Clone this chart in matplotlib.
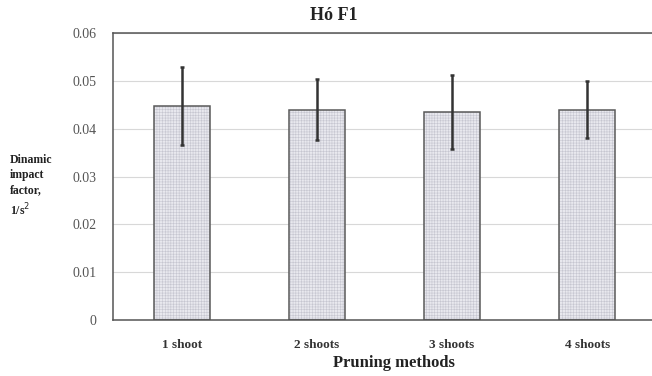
import matplotlib
matplotlib.use("Agg")
import matplotlib.pyplot as plt

categories = ["1 shoot", "2 shoots", "3 shoots", "4 shoots"]
values = [0.0447, 0.0440, 0.0435, 0.0440]
errors = [0.0082, 0.0063, 0.0077, 0.0060]
yticks = [0, 0.01, 0.02, 0.03, 0.04, 0.05, 0.06]
ytick_labels = ["0", "0.01", "0.02", "0.03", "0.04", "0.05", "0.06"]

plt.rcParams['font.family'] = ['Liberation Serif', 'DejaVu Serif']
plt.rcParams['hatch.linewidth'] = 0.4

fig = plt.figure(figsize=(6.52, 3.76), dpi=100)
ax = fig.add_axes([113/652, 1 - 320/376, (652 - 113)/652, (320 - 33)/376])

x = list(range(len(categories)))
# hatched fill (hatch takes edge colour), then outline
ax.bar(x, values, width=0.41, color='#e8e8ee', edgecolor='#c6c6d0', linewidth=0,
       hatch='++++++', zorder=2)
ax.bar(x, values, width=0.41, color='none', edgecolor='#5a5a5a', linewidth=1.1,
       zorder=2.5)
ax.errorbar(x, values, yerr=errors, fmt='none', ecolor='#333333', elinewidth=1.8,
            capsize=1.5, capthick=1.8, zorder=3)

ax.set_xlim(-0.511, 3.48)
ax.set_ylim(0, 0.06)
ax.set_yticks(yticks)
ax.set_yticklabels(ytick_labels, fontsize=10, color='#555555')
ax.set_xticks(x)
ax.set_xticklabels(categories, fontsize=9.5, fontweight='bold', color='#333333')
ax.tick_params(axis='y', length=0, pad=12)
ax.tick_params(axis='x', length=0, pad=14)
ax.grid(axis='y', color='#d8d8d8', linewidth=0.8, zorder=0)

for s in ['left', 'bottom', 'top']:
    ax.spines[s].set_color('#555555')
    ax.spines[s].set_linewidth(1.1)
ax.spines['right'].set_visible(False)

fig.text(334/652, 1 - 15/376, "Hó F1", ha='center', va='center', fontsize=13,
         fontweight='bold', color='#222222')
fig.text(10/652, 1 - 186/376, "Dinamic\nimpact\nfactor,\n1/s$^2$", ha='left', va='center',
         fontsize=8.5, fontweight='bold', color='#222222', linespacing=1.35)
fig.text(394/652, 1 - 363/376, "Pruning methods", ha='center', va='center', fontsize=12,
         fontweight='bold', color='#222222')

fig.savefig("out.png", dpi=100, facecolor='white')
